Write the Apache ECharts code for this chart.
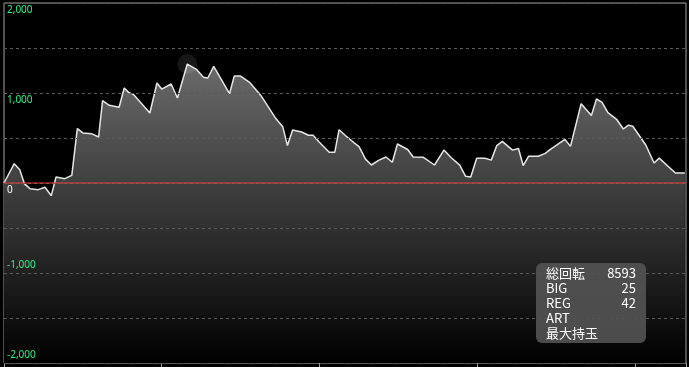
<!DOCTYPE html>
<html><head><meta charset="utf-8">
<script src="https://cdn.jsdelivr.net/npm/echarts@6/dist/echarts.min.js"></script>
<style>html,body{margin:0;padding:0;background:#000;}#c{width:689px;height:367px;}</style>
</head><body><div id="c"></div>
<script>
// game count (spins) at each sample
const spins = [0,130,200,260,330,435,520,600,660,770,
  860,930,1000,1110,1200,1250,1335,1460,1525,1580,
  1640,1850,1940,2000,2120,2200,2325,2445,2530,2585,
  2660,2860,2920,3000,3120,3260,3440,3535,3595,3660,
  3775,3860,3920,4000,4125,4195,4250,4340,4505,4585,
  4660,4750,4845,4925,4990,5120,5190,5315,5460,5580,
  5670,5780,5855,5920,5995,6100,6180,6250,6320,6450,
  6525,6585,6655,6775,6860,6925,7115,7185,7320,7450,
  7515,7585,7660,7770,7855,7920,7975,8140,8245,8310,
  8515,8635];
// balance (medals) at each sample
const balance = [0,215,148,-10,-63,-74,-48,-141,67,48,
  85,604,556,548,511,915,863,841,1056,1007,
  985,778,1111,1044,1100,944,1322,1259,1174,1167,
  1296,992,1188,1188,1115,970,726,626,416,590,
  567,531,530,452,341,341,592,519,402,265,
  200,252,289,230,433,372,289,287,200,366,
  283,198,74,67,274,274,254,416,463,365,
  383,194,298,298,326,370,485,407,880,750,
  935,896,781,708,600,643,631,422,222,276,
  111,111];
const xRange = [0, 8650];
const zeroLine = [0, 0];
const yTickLabels = [-2000,-1000,0,1000,2000];
const highlightIndex = 26;
const infoLabels = ['総回転','BIG','REG','ART','最大持玉'];
const infoValues = ['8593','25','42','',''];

const chart = echarts.init(document.getElementById('c'));
const fmt = v => v.toLocaleString('en-US');
const labelColor = v => Number(v) === 0 ? '#ffffff' : '#2cf088';
const baseY = {
  type: 'value', min: -2000, max: 2000, interval: 500, position: 'left', z: 10,
  axisLine: {show: false}, axisTick: {show: false}
};
const graphics = [{
  type: 'rect', shape: {x: 536, y: 263, width: 110, height: 80, r: 6},
  style: {fill: 'rgba(82,82,82,0.92)'}, z: 100
}];
infoLabels.forEach((t, i) => {
  graphics.push({type: 'text', z: 101, style: {text: t, x: 546, y: 273 + 15 * i,
    fill: '#fff', font: '13px "Noto Sans CJK JP"', textAlign: 'left', textVerticalAlign: 'middle'}});
  graphics.push({type: 'text', z: 101, style: {text: infoValues[i], x: 636, y: 273 + 15 * i,
    fill: '#fff', font: '13px "Noto Sans CJK JP"', textAlign: 'right', textVerticalAlign: 'middle'}});
});
const labelBase = {inside: true, margin: 3, fontFamily: 'Noto Sans', fontSize: 10,
  showMinLabel: true, showMaxLabel: true, color: labelColor};

chart.setOption({
  backgroundColor: '#000',
  animation: false,
  grid: {left: 4, right: 3, top: 3, bottom: 4, show: true, borderColor: '#a0a0a0', borderWidth: 1, backgroundColor: '#000'},
  xAxis: {
    type: 'value', min: xRange[0], max: xRange[1], interval: 2000,
    axisLine: {show: false, onZero: false},
    axisTick: {show: true, length: 4, lineStyle: {color: '#a0a0a0'}},
    axisLabel: {show: false}, splitLine: {show: false}
  },
  yAxis: [
    Object.assign({}, baseY, {
      splitLine: {show: true, lineStyle: {color: '#5a5a5a', type: [3, 3]}},
      axisLabel: Object.assign({}, labelBase, {verticalAlign: 'top', padding: [2, 0, 0, 0],
        formatter: v => (v >= 0 && yTickLabels.includes(v)) ? fmt(v) : ''})
    }),
    Object.assign({}, baseY, {
      splitLine: {show: false},
      axisLabel: Object.assign({}, labelBase, {verticalAlign: 'bottom', padding: [0, 0, 3, 0],
        formatter: v => (v < 0 && yTickLabels.includes(v)) ? fmt(v) : ''})
    })
  ],
  series: [{
    type: 'line',
    data: spins.map((s, i) => [s, balance[i]]),
    showSymbol: false, smooth: false, z: 2,
    lineStyle: {color: '#e6e6e6', width: 1.5},
    areaStyle: {origin: 'start', opacity: 1, color: new echarts.graphic.LinearGradient(0, 0, 0, 1, [
      {offset: 0, color: '#6a6a6a'}, {offset: 1, color: '#000000'}])},
    markPoint: {silent: true, symbol: 'circle', symbolSize: 20, label: {show: false},
      itemStyle: {color: 'rgba(255,255,255,0.09)'},
      data: [{coord: [spins[highlightIndex], balance[highlightIndex]]}]}
  }, {
    type: 'line', z: 20, silent: true,
    data: xRange.map((x, i) => [x, zeroLine[i]]),
    showSymbol: false,
    lineStyle: {color: '#e8403c', width: 1}
  }],
  graphic: graphics
});
</script></body></html>
